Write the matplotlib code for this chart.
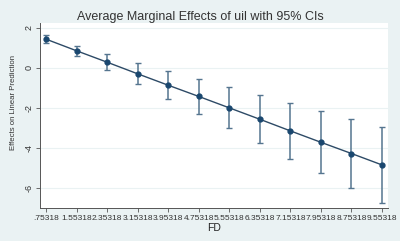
import numpy as np
import matplotlib.pyplot as plt

plt.rcParams['font.family'] = ['Liberation Sans', 'DejaVu Sans']

# FD values at which marginal effects were evaluated
fd = [0.75318, 1.55318, 2.35318, 3.15318, 3.95318, 4.75318,
      5.55318, 6.35318, 7.15318, 7.95318, 8.75318, 9.55318]
fd_labels = [".75318", "1.55318", "2.35318", "3.15318", "3.95318", "4.75318",
             "5.55318", "6.35318", "7.15318", "7.95318", "8.75318", "9.55318"]

# average marginal effects and 95% CIs
ame = [1.43, 0.85, 0.28, -0.30, -0.87, -1.43,
       -2.00, -2.57, -3.15, -3.72, -4.28, -4.85]
ci_hi = [1.62, 1.10, 0.67, 0.25, -0.15, -0.57,
         -0.95, -1.35, -1.75, -2.15, -2.55, -2.95]
ci_lo = [1.22, 0.60, -0.10, -0.83, -1.57, -2.30,
         -3.03, -3.77, -4.53, -5.25, -6.00, -6.75]

bg = "#eaf2f3"
navy = "#1a476f"

fig = plt.figure(figsize=(4.0, 2.41), dpi=100, facecolor=bg)
ax = fig.add_axes([0.100, 0.137, 0.870, 0.767])
ax.set_facecolor("white")

x = np.array(fd)
y = np.array(ame)
yerr = [y - np.array(ci_lo), np.array(ci_hi) - y]

ax.errorbar(x, y, yerr=yerr, fmt="none", ecolor="#55758f", elinewidth=1.1,
            capsize=2.5, capthick=1.0, zorder=2)
ax.plot(x, y, color="#2d4a66", lw=1.0, zorder=3)
ax.plot(x, y, "o", color=navy, ms=3.5, zorder=4)

ax.set_xlim(0.596, 9.71)
ax.set_ylim(-7.0, 2.23)
ax.set_xticks(fd)
ax.set_xticklabels(fd_labels, fontsize=6.0, color="#333333")
ax.set_yticks([-6, -4, -2, 0, 2])
ax.set_yticklabels(["-6", "-4", "-2", "0", "2"], fontsize=6.5, rotation=90,
                   va="center", color="#333333")
ax.tick_params(axis="both", length=3, width=0.6, color="#555555", pad=2)
ax.tick_params(axis="y", pad=1.5)
ax.grid(axis="y", color="#eaf2f3", lw=0.8)
ax.set_axisbelow(True)

for side in ["top", "right"]:
    ax.spines[side].set_visible(False)
for side in ["left", "bottom"]:
    ax.spines[side].set_color("#555555")
    ax.spines[side].set_linewidth(0.7)

ax.set_xlabel("FD", fontsize=7.5, color="#222222", labelpad=1)
ax.set_ylabel("Effects on Linear Prediction", fontsize=5.6, color="#333333")
ax.yaxis.set_label_coords(-0.066, 0.57)
fig.suptitle("Average Marginal Effects of uil with 95% CIs", fontsize=9,
             color="#333333", y=0.955)

fig.savefig("out.png", dpi=100, facecolor=bg)
